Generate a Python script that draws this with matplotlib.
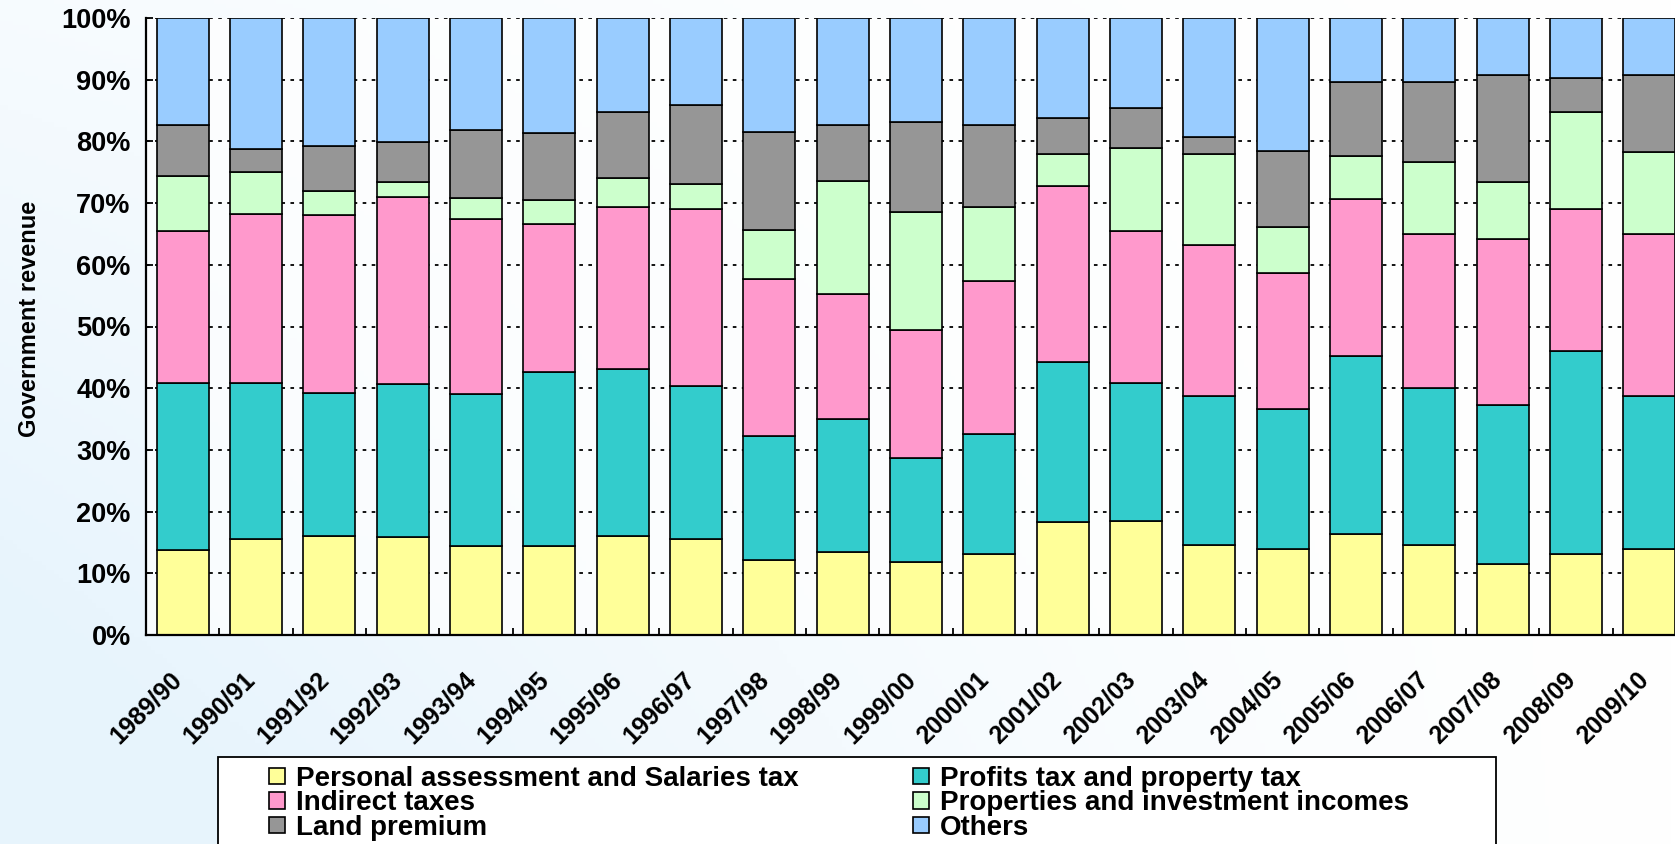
import numpy as np
import matplotlib
matplotlib.use("Agg")
import matplotlib.pyplot as plt
from matplotlib.patches import Rectangle
from matplotlib.transforms import ScaledTranslation

plt.rcParams["font.family"] = ["Liberation Sans", "DejaVu Sans"]
plt.rcParams["font.weight"] = "bold"

years = ["1989/90", "1990/91", "1991/92", "1992/93", "1993/94", "1994/95",
         "1995/96", "1996/97", "1997/98", "1998/99", "1999/00", "2000/01",
         "2001/02", "2002/03", "2003/04", "2004/05", "2005/06", "2006/07",
         "2007/08", "2008/09", "2009/10"]

# Share of government revenue by source (%)
personal = [13.8, 15.6, 16.1, 15.9, 14.4, 14.4, 16.1, 15.6, 12.1, 13.4, 11.8,
            13.1, 18.3, 18.5, 14.6, 14.0, 16.4, 14.6, 11.5, 13.1, 14.0]
profits = [27.0, 25.3, 23.2, 24.8, 24.7, 28.2, 27.0, 24.7, 20.2, 21.6, 16.9,
           19.5, 26.0, 22.4, 24.1, 22.6, 28.8, 25.4, 25.7, 32.9, 24.7]
indirect = [24.7, 27.4, 28.7, 30.3, 28.4, 24.0, 26.3, 28.7, 25.4, 20.3, 20.8,
            24.8, 28.4, 24.5, 24.5, 22.1, 25.4, 25.0, 27.0, 23.0, 26.3]
properties = [8.9, 6.8, 3.9, 2.4, 3.3, 3.9, 4.6, 4.1, 8.0, 18.3, 19.0,
              11.9, 5.3, 13.5, 14.8, 7.5, 7.0, 11.6, 9.2, 15.7, 13.3]
land = [8.3, 3.6, 7.4, 6.5, 11.1, 10.8, 10.8, 12.8, 15.9, 9.0, 14.7,
        13.3, 5.8, 6.5, 2.7, 12.3, 12.0, 13.0, 17.3, 5.6, 12.4]
others = [17.3, 21.3, 20.7, 20.1, 18.1, 18.7, 15.2, 14.1, 18.4, 17.4, 16.8,
          17.4, 16.2, 14.6, 19.3, 21.5, 10.4, 10.4, 9.3, 9.7, 9.3]

series = [
    ("Personal assessment and Salaries tax", personal, "#FFFF99"),
    ("Profits tax and property tax", profits, "#33CCCC"),
    ("Indirect taxes", indirect, "#FF99CC"),
    ("Properties and investment incomes", properties, "#CCFFCC"),
    ("Land premium", land, "#969696"),
    ("Others", others, "#99CCFF"),
]

W, H = 1675, 844
fig = plt.figure(figsize=(W / 100, H / 100), dpi=100)
fig.patch.set_facecolor("white")

# soft pale-blue backdrop, strongest at the lower left
bg = fig.add_axes([0, 0, 1, 1], zorder=-10)
gx, gy = np.meshgrid(np.linspace(0, 1, 400), np.linspace(0, 1, 200))
t = np.clip((1 - gx) ** 1.3 * (0.35 + 0.9 * gy), 0, 1) * 0.85
tint = np.array([0.89, 0.95, 0.99])
img = (1 - t[..., None]) * 1.0 + t[..., None] * tint
bg.imshow(img, aspect="auto", extent=(0, 1, 0, 1), origin="upper")
bg.set_xlim(0, 1)
bg.set_ylim(0, 1)
bg.axis("off")

ax_left, ax_right = 146 / W, 1686 / W
ax_bottom, ax_top = 1 - 635 / H, 1 - 18 / H
ax = fig.add_axes([ax_left, ax_bottom, ax_right - ax_left, ax_top - ax_bottom])
ax.set_facecolor((1, 1, 1, 0.7))

x = np.arange(len(years))
bottom = np.zeros(len(years))
handles = {}
for name, vals, col in series:
    vals = np.array(vals)
    bars = ax.bar(x, vals, width=0.705, bottom=bottom, color=col,
                  edgecolor="black", linewidth=1.2, zorder=3, label=name)
    handles[name] = bars
    bottom += vals

ax.set_xlim(-0.5, len(years) - 0.5)
ax.set_ylim(0, 100)
ax.set_yticks(np.arange(0, 101, 10))
ax.set_yticklabels([f"{v}%" for v in range(0, 101, 10)])
ax.yaxis.grid(True, color="black", linestyle=(0, (2, 3)), linewidth=1.3, zorder=0)
ax.set_axisbelow(True)

for s in ("top", "right"):
    ax.spines[s].set_visible(False)
for s in ("left", "bottom"):
    ax.spines[s].set_linewidth(1.6)
    ax.spines[s].set_zorder(5)

ax.tick_params(axis="y", direction="in", length=5, width=1.3, pad=11,
               labelsize=19.5)
for lab in ax.get_yticklabels():
    lab.set_fontweight("bold")

# category boundaries get small inward ticks; year labels are set diagonally
ax.set_xticks(np.arange(0.5, len(years) - 0.5, 1))
ax.tick_params(axis="x", direction="in", length=5, width=1.3,
               labelbottom=False)
label_shift = ScaledTranslation(-13 / 100, -32 / 100, fig.dpi_scale_trans)
for i, yr in enumerate(years):
    ax.text(i, 0, yr, transform=ax.get_xaxis_transform() + label_shift,
            rotation=45, ha="right", va="top", rotation_mode="anchor",
            fontsize=18, fontweight="bold")

fig.text(30 / W, 1 - 319 / H, "Government revenue", rotation=90,
         ha="center", va="center", fontsize=17, fontweight="bold")

# legend frame, running off the bottom edge
fig.patches.append(Rectangle((218 / W, -0.05), (1496 - 218) / W,
                             (844 - 757) / H + 0.05, transform=fig.transFigure,
                             facecolor="white", edgecolor="black",
                             linewidth=1.3, zorder=1))

order = ["Personal assessment and Salaries tax", "Indirect taxes", "Land premium",
         "Profits tax and property tax", "Properties and investment incomes", "Others"]
leg = fig.legend([handles[n] for n in order], order, ncol=2,
                 loc="upper left", bbox_to_anchor=(269 / W, 1 - 766 / H),
                 frameon=False, borderpad=0, borderaxespad=0,
                 handlelength=0.575, handleheight=0.54, handletextpad=0.4,
                 columnspacing=4.1, labelspacing=-0.055,
                 prop={"weight": "bold", "size": 20})
leg.set_zorder(2)

fig.savefig("out.png", dpi=100)
